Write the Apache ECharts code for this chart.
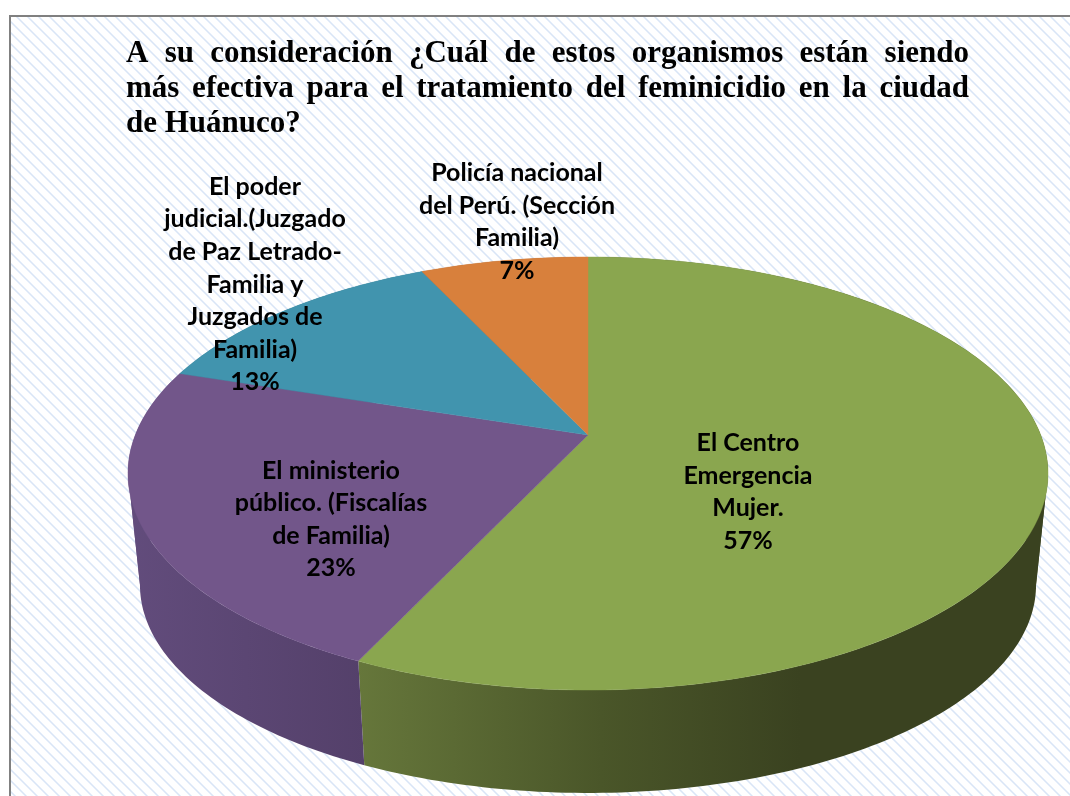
<!DOCTYPE html>
<html><head><meta charset="utf-8">
<style>html,body{margin:0;padding:0;background:#fff;overflow:hidden}#c{width:1070px;height:796px}</style>
<script src="https://cdn.jsdelivr.net/npm/echarts@6/dist/echarts.min.js"></script>
</head><body><div id="c"></div>
<script>
const categories = [
  'El Centro\nEmergencia\nMujer.',
  'El ministerio\npúblico. (Fiscalías\nde Familia)',
  'El poder\njudicial.(Juzgado\nde Paz Letrado-\nFamilia y\nJuzgados de\nFamilia)',
  'Policía nacional\ndel Perú. (Sección\nFamilia)'
];
const values = [57, 23, 13, 7];
const titleLines = [
  'A su consideración ¿Cuál de estos organismos están siendo',
  'más efectiva para el tratamiento del feminicidio en la ciudad',
  'de Huánuco?'
];

// presentation
const topColors = ['#8aa64f', '#72568a', '#4194ae', '#d8803c'];
const wallStops = [
  [[0, '#66773b'], [0.55, '#4a5629'], [1, '#3a4220']],
  [[0, '#624c7c'], [1, '#54406a']],
  [[0, '#2f6e82'], [1, '#2f6e82']],
  [[0, '#a05f2c'], [1, '#a05f2c']]
];
const labelCentres = [[748, 492], [331, 519.5], [255, 284.5], [517, 222]];
const K = 0.1778, CX = 588;
const topRim = {b: 452.7, a: 209.7, y0: 435};
const lowRim = {b: 440.9, a: 201.4, y0: 548};
const FOLDS = [0.2783, 0.7217]; // turns where the wall silhouette folds back
function project(rim, turn) {
  const t = turn * 2 * Math.PI, u = Math.sin(t), v = Math.cos(t), w = 1 + K * v;
  return [CX + rim.b * u / w, rim.y0 - rim.a * v / w];
}
const total = values.reduce((s, x) => s + x, 0);
function span(i) {
  let a = 0;
  for (let j = 0; j < i; j++) a += values[j];
  return [a / total, (a + values[i]) / total];
}
function arc(rim, from, to) {
  const n = Math.max(2, Math.ceil((to - from) * 360));
  const pts = [];
  for (let i = 0; i <= n; i++) pts.push(project(rim, from + (to - from) * i / n));
  return pts;
}

// hatch
function hatch() {
  const P = 11;
  const cv = document.createElement('canvas');
  cv.width = cv.height = P;
  const ctx = cv.getContext('2d');
  ctx.fillStyle = '#ffffff'; ctx.fillRect(0, 0, P, P);
  for (let x = 0; x < P; x++) for (let y = 0; y < P; y++) {
    const d = ((x - y) % P + P) % P;
    if (d === 0) { ctx.fillStyle = '#d9e5f6'; ctx.fillRect(x, y, 1, 1); }
    if (d === 1 || d === P - 1) { ctx.fillStyle = '#e9f0fa'; ctx.fillRect(x, y, 1, 1); }
  }
  return cv;
}

// justified title as one rich text
const TITLE_SIZE = 31, TITLE_FAMILY = 'Liberation Serif';
const TITLE_W = 843;
const meas = document.createElement('canvas').getContext('2d');
meas.font = 'bold ' + TITLE_SIZE + 'px "' + TITLE_FAMILY + '"';
const rich = {};
let counter = 0;
const titleText = titleLines.map((line, li) => {
  const words = line.split(' ');
  const sum = words.reduce((s, w) => s + meas.measureText(w).width, 0);
  const gap = li < titleLines.length - 1 ? (TITLE_W - sum) / (words.length - 1) : meas.measureText(' ').width;
  return words.map((w, i) => {
    const key = 'w' + (counter++);
    rich[key] = {
      width: meas.measureText(w).width + (i < words.length - 1 ? gap : 0),
      align: 'left', fontFamily: TITLE_FAMILY, fontWeight: 'bold', fontSize: TITLE_SIZE,
      color: '#000000', lineHeight: 35
    };
    return '{' + key + '|' + w + (i < words.length - 1 ? ' ' : '') + '}';
  }).join('');
}).join('\n');

const chart = echarts.init(document.getElementById('c'), null, {renderer: 'canvas'});
const pieData = categories.map((name, i) => ({name, value: values[i]}));
chart.setOption({
  animation: false,
  backgroundColor: '#ffffff',
  title: {
    text: titleText, left: 126, top: 36, padding: 0,
    textStyle: {rich, lineHeight: 35}
  },
  graphic: [{
    type: 'rect', z: -10, silent: true,
    shape: {x: 10, y: 16, width: 1100, height: 820},
    style: {fill: {image: hatch(), repeat: 'repeat'}, stroke: '#808080', lineWidth: 2}
  }],
  series: [{
    type: 'custom', coordinateSystem: 'none', z: 1, silent: true, data: pieData,
    renderItem(params, api) {
      const i = params.dataIndex;
      const [a, b] = span(i);
      const cuts = [a].concat(FOLDS.filter(f => f > a && f < b), [b]);
      const fill = new echarts.graphic.LinearGradient(i === 0 ? 357 : 128, 0, i === 0 ? 800 : 364, 0,
        wallStops[i].map(s => ({offset: s[0], color: s[1]})), true);
      const children = [];
      for (let c = 0; c < cuts.length - 1; c++) {
        children.push({
          type: 'polygon',
          shape: {points: arc(topRim, cuts[c], cuts[c + 1]).concat(arc(lowRim, cuts[c], cuts[c + 1]).reverse())},
          style: {fill, stroke: null}
        });
      }
      return {type: 'group', children};
    }
  }, {
    type: 'custom', coordinateSystem: 'none', z: 2, silent: true, data: pieData,
    renderItem(params, api) {
      const i = params.dataIndex;
      const [a, b] = span(i);
      const pts = [[CX, topRim.y0]].concat(arc(topRim, a, b));
      return {
        type: 'polygon', shape: {points: pts},
        style: {fill: topColors[i], stroke: topColors[i], lineWidth: 0.4}
      };
    }
  }, {
    type: 'custom', coordinateSystem: 'none', z: 3, silent: true, data: pieData,
    renderItem(params, api) {
      const i = params.dataIndex;
      const pct = Math.round(api.value(0) / total * 100);
      return {
        type: 'text',
        style: {
          x: labelCentres[i][0], y: labelCentres[i][1],
          text: categories[i] + '\n' + pct + '%',
          align: 'center', verticalAlign: 'middle',
          font: 'bold 25px Lato', lineHeight: 32.6, fill: '#000000'
        }
      };
    }
  }]
});
</script></body></html>
